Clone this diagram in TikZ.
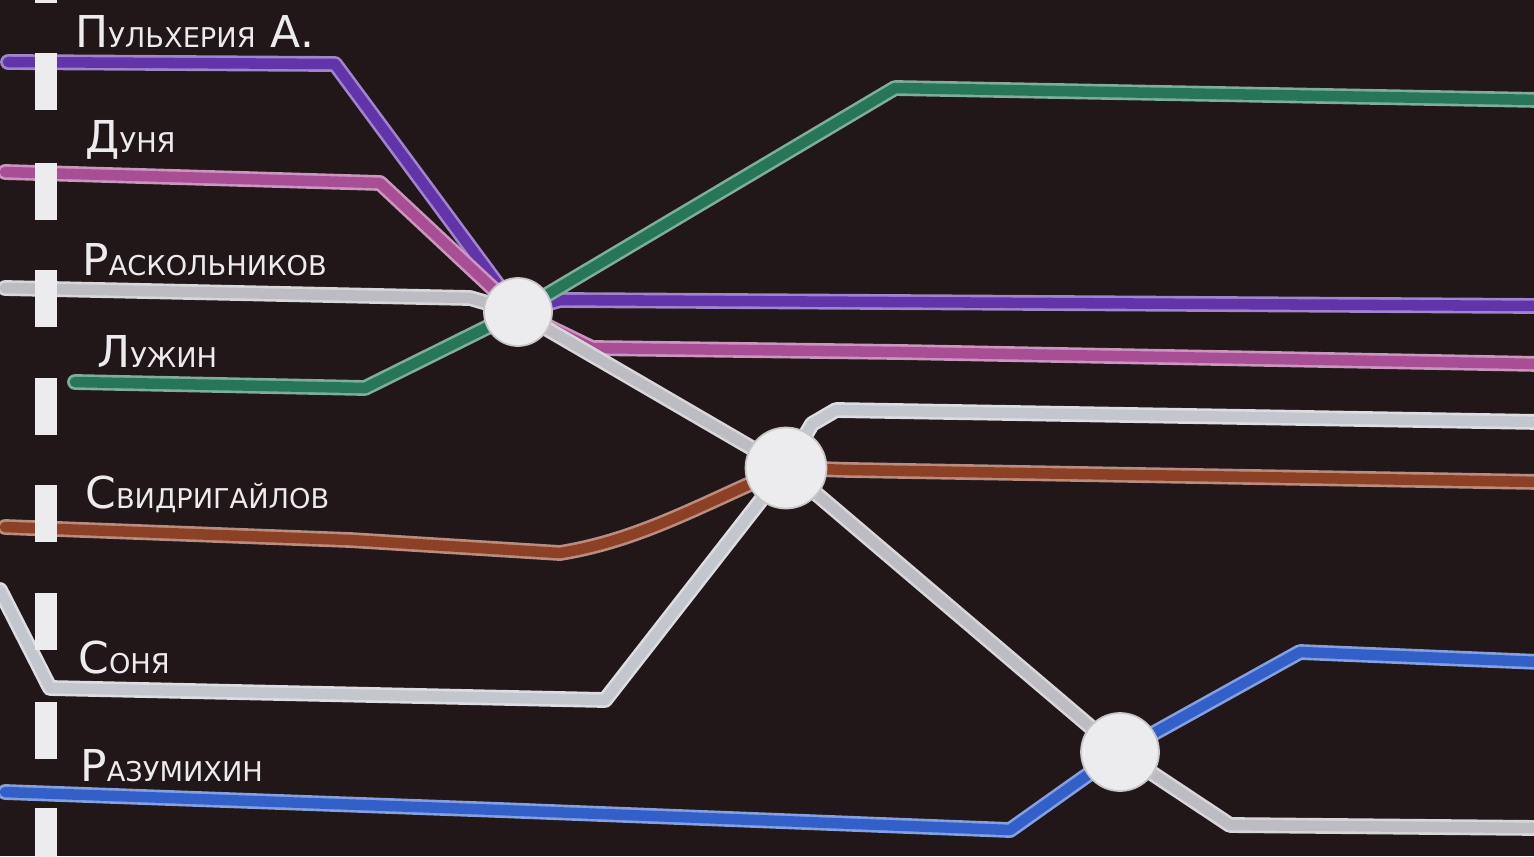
\documentclass[tikz,border=0pt]{standalone}
\usepackage{fontspec}
\setmainfont{DejaVu Sans}
\usepackage{xcolor}
\usetikzlibrary{positioning}

\definecolor{paper}{RGB}{33,22,24}
\definecolor{chalk}{RGB}{236,236,238}
\definecolor{pulkhc}{RGB}{98,52,170}
\definecolor{dunyac}{RGB}{168,78,148}
\definecolor{raskc}{RGB}{188,188,194}
\definecolor{luzhc}{RGB}{40,118,88}
\definecolor{svidc}{RGB}{140,64,38}
\definecolor{sonyac}{RGB}{196,198,206}
\definecolor{razc}{RGB}{50,96,200}

\newcommand{\bigch}[1]{{\fontsize{25pt}{25pt}\selectfont #1}}
\newcommand{\smch}[1]{{\fontsize{15.5pt}{15.5pt}\selectfont #1}}

\pgfdeclarelayer{bglayer}
\pgfdeclarelayer{inklayer}
\pgfsetlayers{bglayer,inklayer,main}

\tikzset{
  thread/.style={line width=9pt,line cap=round,line join=round,draw=#1!60!white,
    postaction={draw=#1,line width=6pt}},
  junction/.style={circle,fill=chalk,draw=gray!45,line width=1pt,inner sep=0pt},
  charname/.style={text=chalk,anchor=base west,inner sep=0pt},
}

\begin{document}
\begin{tikzpicture}[x=0.02cm,y=-0.02cm]
  \useasboundingbox (0,0) rectangle (1534,856);
  \begin{pgfonlayer}{bglayer}
    \fill[paper] (0,0) rectangle (1534,856);
  \end{pgfonlayer}

  \node[junction,minimum size=1.36cm] (j1) at (518,312) {};
  \node[junction,minimum size=1.62cm] (j2) at (786,468) {};
  \node[junction,minimum size=1.56cm] (j3) at (1120,752) {};

  \begin{pgfonlayer}{inklayer}
    \draw[thread=pulkhc] (8,62) -- (335,64) -- (j1.center) -- (560,300) -- (1540,306);
    \draw[thread=dunyac] (5,172) -- (380,183) -- (j1.center) -- (592,348)
      -- (900,352) -- (1540,364);
    \draw[thread=raskc] (5,288) -- (470,298) -- (j1.center) -- (j2.center)
      -- (j3.center) -- (1230,825) -- (1540,828);
    \draw[thread=luzhc] (75,382) -- (365,388) -- (j1.center) -- (895,88) -- (1540,100);
    \draw[thread=svidc] (5,527) -- (350,540) -- (560,553)
      .. controls (640,540) and (700,505) .. (j2.center) -- (850,470) -- (1540,482);
    \draw[thread=sonyac] (0,590) -- (50,688) -- (605,700) -- (j2.center)
      -- (812,424) -- (836,410) -- (1540,422);
    \draw[thread=razc] (5,792) -- (500,810) -- (1010,830) -- (j3.center)
      -- (1300,652) -- (1540,662);
  \end{pgfonlayer}

  \foreach \y in {-54,53,163,270,378,485,593,702,808}
    \fill[chalk] (35,\y) rectangle (57,\y+57);

  \node[charname] (pulkh) at (75,47) {\bigch{П}\smch{УЛЬХЕРИЯ}\hspace{0.3cm}\bigch{А.}};
  \node[charname] (dunya) at (85,152) {\bigch{Д}\smch{УНЯ}};
  \node[charname] (rask) at (82,275) {\bigch{Р}\smch{АСКОЛЬНИКОВ}};
  \node[charname] (luzh) at (97,367) {\bigch{Л}\smch{УЖИН}};
  \node[charname] (svid) at (85,508) {\bigch{С}\smch{ВИДРИГАЙЛОВ}};
  \node[charname] (sonya) at (78,673) {\bigch{С}\smch{ОНЯ}};
  \node[charname] (raz) at (80,781) {\bigch{Р}\smch{АЗУМИХИН}};
\end{tikzpicture}
\end{document}
